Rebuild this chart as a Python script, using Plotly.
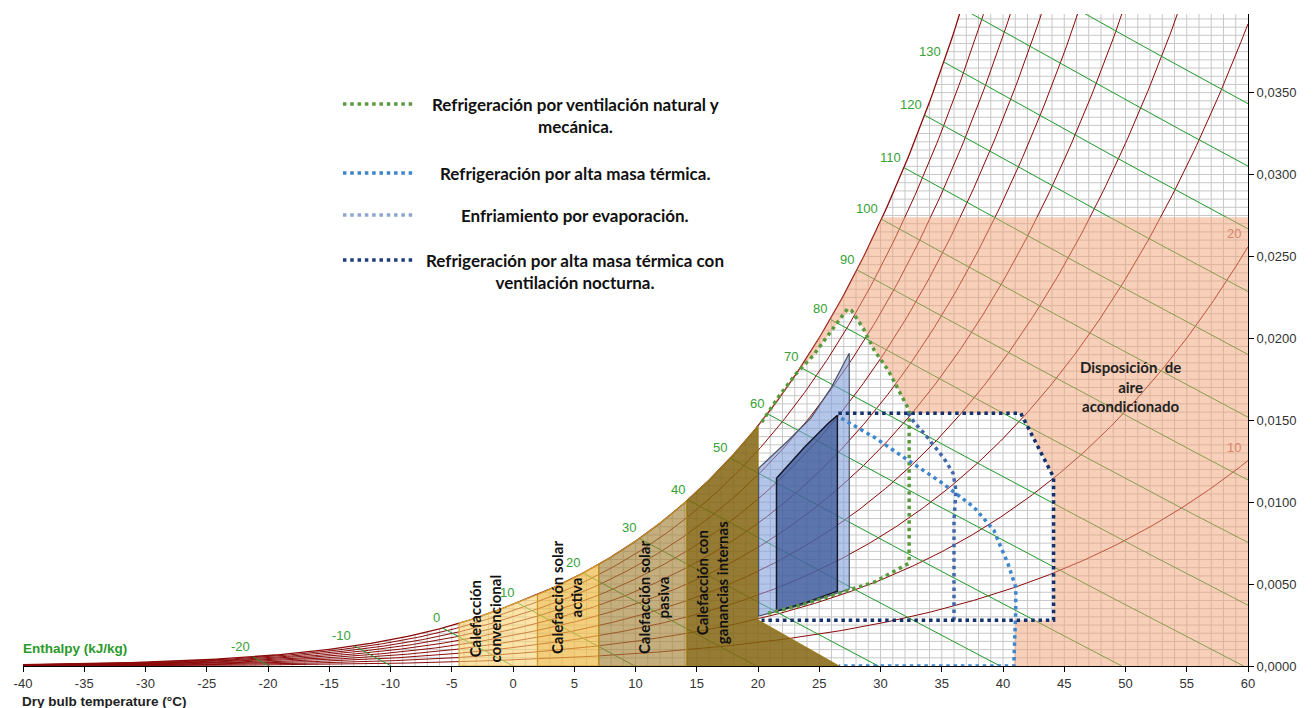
import numpy as np
import plotly.graph_objects as go

P_ATM = 101.325  # kPa

# axes
T_RANGE = [-40, 60]
W_RANGE = [0, 0.0398]
T_TICKS = list(range(-40, 61, 5))
W_TICKS = [0.0, 0.005, 0.010, 0.015, 0.020, 0.025, 0.030, 0.035]

# psychrometric families
RH_LEVELS = [0.1, 0.2, 0.3, 0.4, 0.5, 0.6, 0.7, 0.8, 0.9, 1.0]
RH_LABELLED = [0.1, 0.2]
H_LEVELS = list(range(-20, 151, 10))

# heating zones (dry bulb limits)
HEAT_T = [-4.4, 2.0, 7.0, 14.2, 20.0]
HEAT_NAMES = ['Calefacción<br>convencional', 'Calefacción solar<br>activa',
              'Calefacción solar<br>pasiva', 'Calefacción con<br>ganancias internas']
HEAT_FILL = ['rgba(250,210,110,0.6)', 'rgba(238,185,70,0.7)',
             'rgba(165,130,55,0.65)', 'rgba(130,100,15,0.85)']
HEAT_EDGE = ['#d9a53a', '#d09a2a', '#b8902a', '#9a7a1a']
HEAT_LABEL_T = [-2.25, 4.4, 11.5, 16.3]
HEAT_LABEL_W = [0.00293, 0.00420, 0.00420, 0.00510]
INTERNAL_CORNER_W = 0.0028
INTERNAL_END_T = 26.6

# air conditioning zone
AC_TOP_W = 0.0274
AC_NOTCH_T = [40.88, 41.04, 44.13, 44.13, 41.45, 32.34, 32.34, 30.63, 29.49, 28.59,
              27.62, 26.97, 25.83, 24.52, 23.14, 21.76, 20.3]
AC_NOTCH_W = [0.0, 0.0028, 0.0028, 0.01152, 0.01543, 0.01543, 0.01561, 0.01805, 0.01927,
              0.02061, 0.02171, 0.0214, 0.0203, 0.01896, 0.01787, 0.01652, 0.01488]

# comfort zones (filled)
EXT_T = [20.05, 22.49, 24.36, 25.99, 27.45, 27.45, 23.55, 20.05]
EXT_W = [0.01207, 0.01378, 0.01518, 0.01701, 0.01909, 0.00470, 0.00372, 0.00305]
COMF_T = [21.51, 23.79, 25.74, 26.48, 26.48, 24.0, 21.51]
COMF_W = [0.01146, 0.01335, 0.01482, 0.01530, 0.00457, 0.00390, 0.00335]

# dotted strategy outlines
VENT_T = [20.3, 21.76, 23.14, 24.52, 25.83, 26.97, 27.3, 27.62, 28.59, 29.49, 30.63,
          32.34, 32.34, 29.49, 26.56, 23.55, 20.54]
VENT_W = [0.01488, 0.01652, 0.01787, 0.01896, 0.0203, 0.0214, 0.0218, 0.02171, 0.02061,
          0.01927, 0.01805, 0.01561, 0.00628, 0.00512, 0.00445, 0.00372, 0.00317]
MASS_T = [26.8, 29.49, 32.25, 34.94, 37.62, 39.25, 39.82, 40.39, 41.04, 41.04, 40.88, 26.6]
MASS_W = [0.01512, 0.01396, 0.01256, 0.01122, 0.0097, 0.00829, 0.00726, 0.00628,
          0.00482, 0.00341, 0.0, 0.0]
EVAP_T = [32.25, 32.74, 33.55, 34.37, 35.18, 35.92, 36.16, 36.0, 36.0]
EVAP_W = [0.01543, 0.01488, 0.01421, 0.01348, 0.01268, 0.01177, 0.01073, 0.0089, 0.0028]
NIGHT_T = [26.56, 41.45, 44.13, 44.13, 20.29]
NIGHT_W = [0.01543, 0.01543, 0.01152, 0.0028, 0.0028]

LEGEND_TEXT = ['Refrigeración por ventilación natural y<br>mecánica.',
               'Refrigeración por alta masa térmica.',
               'Enfriamiento por evaporación.',
               'Refrigeración por alta masa térmica con<br>ventilación nocturna.']
LEGEND_COLORS = ['#5a9a3e', '#3d85c6', '#8fa6cc', '#1f3d7a']


def pws(t):
    t = np.asarray(t, dtype=float)
    return np.where(t >= 0,
                    0.61094 * np.exp(17.625 * t / (t + 243.04)),
                    0.61115 * np.exp(22.452 * t / (272.55 + t)))


def w_of(t, phi):
    pv = phi * pws(t)
    return 0.622 * pv / (P_ATM - pv)


def enthalpy(t, w):
    return 1.006 * t + w * (2501 + 1.86 * t)


T_FINE = np.arange(-45, 70.001, 0.01)
W_SAT = w_of(T_FINE, 1.0)
H_SAT = enthalpy(T_FINE, W_SAT)


def t_sat_w(w):
    return float(np.interp(w, W_SAT, T_FINE))


def t_sat_h(h):
    return float(np.interp(h, H_SAT, T_FINE))


fig = go.Figure()


def add_line(x, y, color, width=1.0, dash=None):
    fig.add_trace(go.Scatter(x=x, y=y, mode='lines', hoverinfo='skip', showlegend=False,
                             line=dict(color=color, width=width, dash=dash)))


def add_fill(x, y, fill, edge, width=1.0):
    fig.add_trace(go.Scatter(x=x, y=y, mode='lines', fill='toself', fillcolor=fill,
                             hoverinfo='skip', showlegend=False,
                             line=dict(color=edge, width=width)))


# grid, only under the saturation curve
gx, gy = [], []
for t in range(T_RANGE[0] + 1, T_RANGE[1]):
    gx += [t, t, None]
    gy += [0, min(float(w_of(t, 1.0)), W_RANGE[1]), None]
for k in range(1, int(W_RANGE[1] / 0.0005) + 1):
    w = k * 0.0005
    gx += [t_sat_w(w), T_RANGE[1], None]
    gy += [w, w, None]
add_line(gx, gy, '#c8c8c8', 1)

# relative humidity curves
t_curve = np.arange(-40, 60.01, 0.2)
for phi in RH_LEVELS:
    add_line(t_curve, w_of(t_curve, phi), '#8b0a0a', 1.3 if phi == 1.0 else 1.0)

# enthalpy lines
for h in H_LEVELS:
    ts = t_sat_h(h)
    tt = np.linspace(ts, h / 1.006, 30)
    add_line(tt, (h - 1.006 * tt) / (2501 + 1.86 * tt), '#1f9a2a', 1.0)

# heating zones
for i, name in enumerate(HEAT_NAMES):
    t0, t1 = HEAT_T[i], HEAT_T[i + 1]
    ts = np.linspace(t1, t0, 40)
    if i < len(HEAT_NAMES) - 1:
        xs = [t0, t1] + list(ts) + [t0]
        ys = [0, 0] + list(w_of(ts, 1.0)) + [0]
    else:
        xs = [t0, INTERNAL_END_T, t1] + list(ts) + [t0]
        ys = [0, 0, INTERNAL_CORNER_W] + list(w_of(ts, 1.0)) + [0]
    add_fill(xs, ys, HEAT_FILL[i], HEAT_EDGE[i], 1.2)

# air conditioning zone
t_top = t_sat_w(AC_TOP_W)
ts = np.linspace(HEAT_T[-1], t_top, 50)
ac_x = list(ts) + [T_RANGE[1], T_RANGE[1]] + AC_NOTCH_T + [HEAT_T[-1]]
ac_y = list(w_of(ts, 1.0)) + [AC_TOP_W, 0] + AC_NOTCH_W + [float(w_of(HEAT_T[-1], 1.0))]
add_fill(ac_x, ac_y, 'rgba(242,160,115,0.5)', 'rgba(0,0,0,0)', 0)

# comfort zones
add_fill(EXT_T + [EXT_T[0]], EXT_W + [EXT_W[0]], 'rgba(125,155,218,0.58)', '#4a5468', 1.2)
add_fill(COMF_T + [COMF_T[0]], COMF_W + [COMF_W[0]], 'rgba(54,82,145,0.7)', '#15182a', 1.5)

# strategy outlines
DOT = '3.5px,3.8px'
add_line(VENT_T, VENT_W, '#5a9a3e', 3.5, DOT)
add_line(MASS_T, MASS_W, '#3f87cc', 3.5, DOT)
add_line(EVAP_T, EVAP_W, '#4268ab', 3.5, DOT)
add_line(NIGHT_T, NIGHT_W, '#15316c', 3.5, DOT)

ann = []
# enthalpy labels
for h in H_LEVELS:
    ts = t_sat_h(h)
    ws = float(w_of(ts, 1.0))
    if ws <= W_RANGE[1]:
        ann.append(dict(x=ts, y=ws, text=str(h), showarrow=False, xanchor='right',
                        yanchor='bottom', xshift=-1, yshift=1,
                        font=dict(size=13, color='#35a235', family='Liberation Sans')))
for phi in RH_LABELLED:
    ann.append(dict(x=T_RANGE[1], y=float(w_of(T_RANGE[1], phi)), text=str(int(phi * 100)),
                    showarrow=False, xanchor='right', yanchor='bottom', xshift=-5, yshift=4,
                    font=dict(size=13, color='#d8866c', family='Liberation Sans')))

CAL = 'Lato, Calibri, sans-serif'
for name, lt, lw in zip(HEAT_NAMES, HEAT_LABEL_T, HEAT_LABEL_W):
    ann.append(dict(x=lt, y=lw, text='<b>%s</b>' % name, showarrow=False, textangle=-90,
                    xanchor='center', yanchor='middle',
                    font=dict(size=15, color='#111', family=CAL)))
ann.append(dict(x=50.4, y=0.01707, text='<b>Disposición  de<br>aire<br>acondicionado</b>',
                showarrow=False, xanchor='center', yanchor='middle',
                font=dict(size=15, color='#222', family=CAL)))

# legend (drawn by hand, as in the original); pixel positions of the plot area
PX0, PX1, PY0, PY1 = 19, 1248, 666, 14
LEG_Y = [104, 173, 215, 260]
LEG_TEXT_Y = [116, 173, 215, 271.5]
shapes = []
for txt, col, ly, ty in zip(LEGEND_TEXT, LEGEND_COLORS, LEG_Y, LEG_TEXT_Y):
    py = (PY0 - ly) / (PY0 - PY1)
    shapes.append(dict(type='line', xref='paper', yref='paper', x0=(340 - PX0) / (PX1 - PX0),
                       x1=(413 - PX0) / (PX1 - PX0), y0=py, y1=py,
                       line=dict(color=col, width=3.5, dash=DOT)))
    ann.append(dict(xref='paper', yref='paper', x=(573 - PX0) / (PX1 - PX0),
                    y=(PY0 - ty) / (PY0 - PY1), xanchor='center', yanchor='middle',
                    text='<b>%s</b>' % txt, showarrow=False,
                    font=dict(size=17, color='#111', family=CAL)))

ann.append(dict(xref='paper', yref='paper', x=(17 - PX0) / (PX1 - PX0),
                y=(PY0 - 648) / (PY0 - PY1),
                text='<b>Enthalpy (kJ/kg)</b>', showarrow=False, xanchor='left', yanchor='middle',
                font=dict(size=13.5, color='#2a9a2a', family='Liberation Sans')))
ann.append(dict(xref='paper', yref='paper', x=(16 - PX0) / (PX1 - PX0),
                y=(PY0 - 701) / (PY0 - PY1),
                text='<b>Dry bulb temperature (°C)</b>', showarrow=False, xanchor='left',
                yanchor='middle',
                font=dict(size=13.5, color='#222', family='Liberation Sans')))

TICKFONT = dict(size=13, color='#333', family='Liberation Sans')

# the page adds an 8 px body margin at top/left, so the figure is 8 px smaller
fig.update_layout(
    width=1306, height=700,
    margin=dict(l=PX0 - 8, r=1314 - PX1, t=PY1 - 8, b=708 - PY0),
    plot_bgcolor='white', paper_bgcolor='white',
    separators=',.',
    showlegend=False,
    annotations=ann,
    shapes=shapes,
    xaxis=dict(range=T_RANGE, tickvals=T_TICKS, ticktext=[str(t) for t in T_TICKS],
               ticks='outside', ticklen=5,
               tickcolor='#000', showline=True, linecolor='#000', linewidth=1,
               showgrid=False, zeroline=False, tickfont=TICKFONT),
    yaxis=dict(range=W_RANGE, tickvals=W_TICKS, tickformat='.4f', side='right',
               ticks='outside', ticklen=5, tickcolor='#000', showline=True,
               linecolor='#000', linewidth=1, showgrid=False, zeroline=False,
               tickfont=TICKFONT),
)

fig.write_html('out.html')
